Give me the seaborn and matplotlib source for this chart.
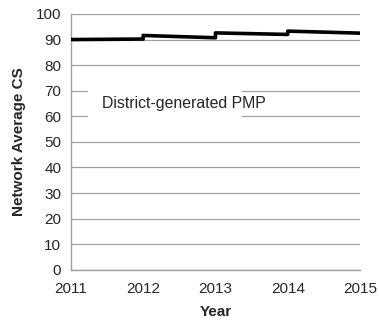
import pandas as pd
import matplotlib
matplotlib.use("Agg")
import matplotlib.pyplot as plt
from matplotlib.patches import Rectangle
import seaborn as sns

# datos (saltos en cada año)
anio = [2011, 2012, 2012, 2013, 2013, 2014, 2014, 2015]
cs_promedio = [90.0, 90.2, 91.6, 90.7, 92.6, 92.0, 93.3, 92.5]
etiqueta = "District-generated PMP"
y_ticks = list(range(0, 101, 10))
x_ticks = [2011, 2012, 2013, 2014, 2015]

df = pd.DataFrame({"Year": anio, "CS": cs_promedio})

sns.set_style("white")
plt.rcParams["font.family"] = ["Liberation Sans", "DejaVu Sans"]

fig, ax = plt.subplots(figsize=(3.79, 3.25), dpi=100)
sns.lineplot(data=df, x="Year", y="CS", sort=False, estimator=None,
             color="black", linewidth=2.6, ax=ax, zorder=5)

ax.set_xlim(2011, 2015)
ax.set_ylim(0, 100)
ax.set_yticks(y_ticks)
ax.set_xticks(x_ticks)
ax.set_xticklabels([str(x) for x in x_ticks])
ax.grid(axis="y", color="#a0a0a0", linewidth=0.9)
ax.set_axisbelow(True)

for lado in ["top", "right"]:
    ax.spines[lado].set_visible(False)
for lado in ["left", "bottom"]:
    ax.spines[lado].set_color("#a0a0a0")
    ax.spines[lado].set_linewidth(1.0)

ax.tick_params(axis="both", direction="out", length=4, color="#a0a0a0",
               labelsize=11)
ax.tick_params(axis="x", pad=5)
ax.tick_params(axis="y", pad=3)

ax.set_xlabel("Year", fontsize=11, fontweight="bold", labelpad=6)
ax.set_ylabel("Network Average CS", fontsize=11, fontweight="bold", labelpad=7)

# caja blanca del cuadro de texto (el texto se sale un poco por la derecha)
ax.add_patch(Rectangle((2011.24, 57.5), 2.13, 15, facecolor="white",
                       edgecolor="none", zorder=2))
ax.text(2011.43, 65, etiqueta, fontsize=11.4, va="center", ha="left", zorder=3)

plt.subplots_adjust(left=0.187, right=0.95, top=0.957, bottom=0.17)
plt.savefig("out.png", dpi=100)
